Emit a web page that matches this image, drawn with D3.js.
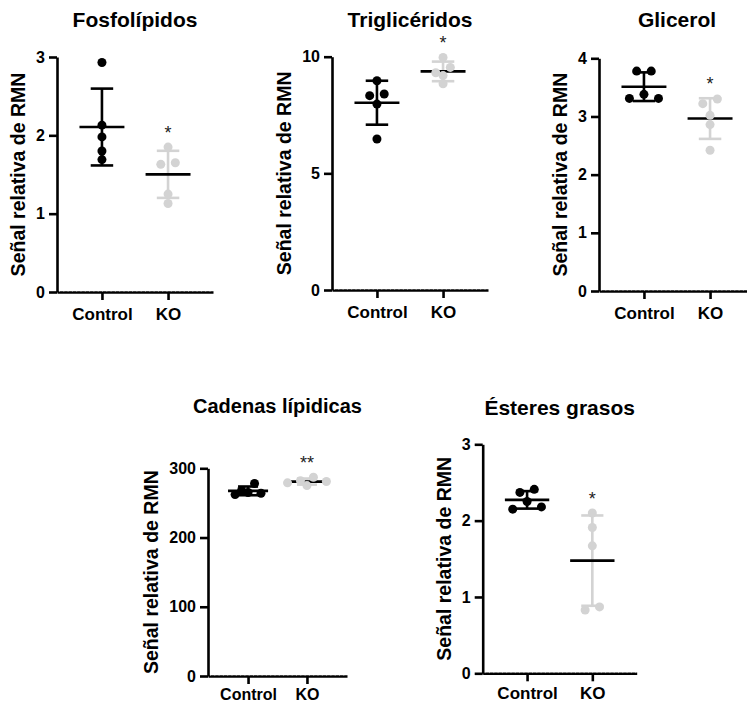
<!DOCTYPE html>
<html>
<head>
<meta charset="utf-8">
<script src="https://cdn.jsdelivr.net/npm/d3@7"></script>
<style>
  html, body { margin: 0; padding: 0; background: #fff; }
  svg { display: block; font-family: "Liberation Sans", Arial, Helvetica, sans-serif; }
</style>
</head>
<body>
<svg id="chart" width="747" height="705"></svg>
<script>
// Groups compared in every panel
const groups = ["Control", "KO"];
const yLabel = "Señal relativa de RMN";

// Panel titles
const panelTitles = ["Fosfolípidos", "Triglicéridos", "Glicerol", "Cadenas lípidicas", "Ésteres grasos"];

// Individual measurements (n = 5 per group)
const fosfoControl = [2.93, 2.13, 1.98, 1.80, 1.69];
const fosfoKO      = [1.85, 1.65, 1.63, 1.25, 1.13];
const trigControl  = [8.97, 8.40, 8.33, 7.97, 6.47];
const trigKO       = [9.97, 9.54, 9.31, 9.19, 8.84];
const glicControl  = [3.78, 3.78, 3.38, 3.31, 3.31];
const glicKO       = [3.30, 3.22, 3.02, 2.86, 2.42];
const cadControl   = [278, 268, 265, 264, 262];
const cadKO        = [287, 282, 281, 279, 275];
const esterControl = [2.41, 2.37, 2.25, 2.18, 2.15];
const esterKO      = [2.10, 1.91, 1.67, 0.87, 0.83];

// Y tick values per panel
const fosfoTicks = [0, 1, 2, 3];
const trigTicks  = [0, 5, 10];
const glicTicks  = [0, 1, 2, 3, 4];
const cadTicks   = [0, 100, 200, 300];
const esterTicks = [0, 1, 2, 3];

// Significance marks over the KO group
const significance = ["*", "*", "*", "**", "*"];

const seriesControl = [fosfoControl, trigControl, glicControl, cadControl, esterControl];
const seriesKO      = [fosfoKO, trigKO, glicKO, cadKO, esterKO];
const tickSets      = [fosfoTicks, trigTicks, glicTicks, cadTicks, esterTicks];

// Panel frames: y-axis x position, plot top/bottom, plot width, title baseline, font sizes
const frames = [
  { x: 57,    top: 57,    bottom: 292,   w: 156, titleY: 27,  titleSize: 21, catSize: 17, catPad: 8 },
  { x: 332,   top: 56.7,  bottom: 290,   w: 156, titleY: 27,  titleSize: 21, catSize: 17, catPad: 8 },
  { x: 599,   top: 58.3,  bottom: 291,   w: 156, titleY: 27,  titleSize: 21, catSize: 17, catPad: 8 },
  { x: 208,   top: 468.3, bottom: 676,   w: 139, titleY: 413, titleSize: 20, catSize: 16, catPad: 5 },
  { x: 482.7, top: 444.3, bottom: 673.3, w: 154, titleY: 415, titleSize: 21, catSize: 17, catPad: 6 }
];

const colors = { Control: "#000000", KO: "#d3d3d3" };
const R = 4.5;
const LW = 2.6;

const svg = d3.select("#chart");

// Arrange points of a group in centred rows, like a scatter dot plot
function spread(values, y, rowH, gap) {
  const pts = values.map(v => ({ v, py: y(v), dx: 0 })).sort((a, b) => a.py - b.py);
  const rows = [];
  pts.forEach(p => {
    const row = rows[rows.length - 1];
    if (row && p.py - row[0].py < rowH) row.push(p); else rows.push([p]);
  });
  rows.forEach(row => {
    const n = row.length;
    const offs = d3.range(n).map(k => (k - (n - 1) / 2) * gap)
      .sort((a, b) => (Math.abs(a) - Math.abs(b)) || (b - a));
    row.forEach((p, i) => { p.dx = offs[i]; });
  });
  return pts;
}

frames.forEach((f, i) => {
  const ticks = tickSets[i];
  const g = svg.append("g");

  const x = d3.scalePoint().domain(groups).range([f.x, f.x + f.w]).padding(0.68);
  const y = d3.scaleLinear().domain([0, ticks[ticks.length - 1]]).range([f.bottom, f.top]);
  const step = x.step();

  // Title
  g.append("text")
    .attr("x", f.x + f.w / 2).attr("y", f.titleY)
    .attr("text-anchor", "middle")
    .attr("font-size", f.titleSize).attr("font-weight", "bold")
    .text(panelTitles[i]);

  // Y axis
  const yAxis = g.append("g")
    .attr("transform", `translate(${f.x},0)`)
    .call(d3.axisLeft(y).tickValues(ticks).tickFormat(d3.format("d")).tickSize(8).tickSizeOuter(0).tickPadding(4));
  yAxis.select(".domain").attr("stroke", "#000").attr("stroke-width", LW);
  yAxis.selectAll(".tick line").attr("stroke", "#000").attr("stroke-width", LW);
  yAxis.selectAll(".tick text")
    .attr("font-size", 16).attr("font-weight", "bold").attr("fill", "#000")
    .attr("font-family", "Liberation Sans, Arial, sans-serif");

  // X axis
  const xAxis = g.append("g")
    .attr("transform", `translate(0,${f.bottom})`)
    .call(d3.axisBottom(x).tickSize(8).tickSizeOuter(0).tickPadding(f.catPad));
  xAxis.select(".domain").attr("stroke", "#000").attr("stroke-width", LW);
  xAxis.selectAll(".tick line").attr("stroke", "#000").attr("stroke-width", LW);
  xAxis.selectAll(".tick text")
    .attr("font-size", f.catSize).attr("font-weight", "bold").attr("fill", "#000")
    .attr("font-family", "Liberation Sans, Arial, sans-serif");
  // fine dotted texture along the baseline
  g.append("line")
    .attr("x1", f.x + 2).attr("x2", f.x + f.w)
    .attr("y1", f.bottom - 0.7).attr("y2", f.bottom - 0.7)
    .attr("stroke", "#fff").attr("stroke-opacity", 0.55)
    .attr("stroke-width", 0.9).attr("stroke-dasharray", "1,3.3");

  // Y axis title, placed left of the tick labels
  const tickLeft = d3.min(yAxis.selectAll(".tick text").nodes(), n => n.getBBox().x) + f.x;
  g.append("text")
    .attr("transform", `translate(${tickLeft - 18},${(f.top + f.bottom) / 2}) rotate(-90)`)
    .attr("text-anchor", "middle").attr("dy", "0.36em")
    .attr("font-size", 19.5).attr("font-weight", "bold")
    .text(yLabel);

  const series = [seriesControl[i], seriesKO[i]];
  let topKO = Infinity;

  series.forEach((vals, gi) => {
    const name = groups[gi];
    const cx = x(name);
    const m = d3.mean(vals);
    const sd = d3.deviation(vals);
    const col = colors[name];
    const capW = step * 0.17;
    const meanW = step * 0.34;
    const eg = g.append("g");

    // SD error bar
    eg.append("line")
      .attr("x1", cx).attr("x2", cx).attr("y1", y(m - sd)).attr("y2", y(m + sd))
      .attr("stroke", col).attr("stroke-width", LW);
    [m - sd, m + sd].forEach(v => {
      eg.append("line")
        .attr("x1", cx - capW).attr("x2", cx + capW).attr("y1", y(v)).attr("y2", y(v))
        .attr("stroke", col).attr("stroke-width", LW);
    });
    // Mean
    eg.append("line")
      .attr("x1", cx - meanW).attr("x2", cx + meanW).attr("y1", y(m)).attr("y2", y(m))
      .attr("stroke", "#000").attr("stroke-width", LW);

    // Points
    const pts = spread(vals, y, 8, step * 0.22);
    eg.selectAll("circle").data(pts).join("circle")
      .attr("cx", d => cx + d.dx).attr("cy", d => d.py).attr("r", R)
      .attr("fill", col);

    if (name === "KO") topKO = Math.min(y(d3.max(vals)), y(m + sd));
  });

  // Significance mark
  g.append("text")
    .attr("x", x("KO")).attr("y", topKO - 8)
    .attr("text-anchor", "middle")
    .attr("font-size", 18).attr("fill", "#222")
    .text(significance[i]);
});
</script>
</body>
</html>
